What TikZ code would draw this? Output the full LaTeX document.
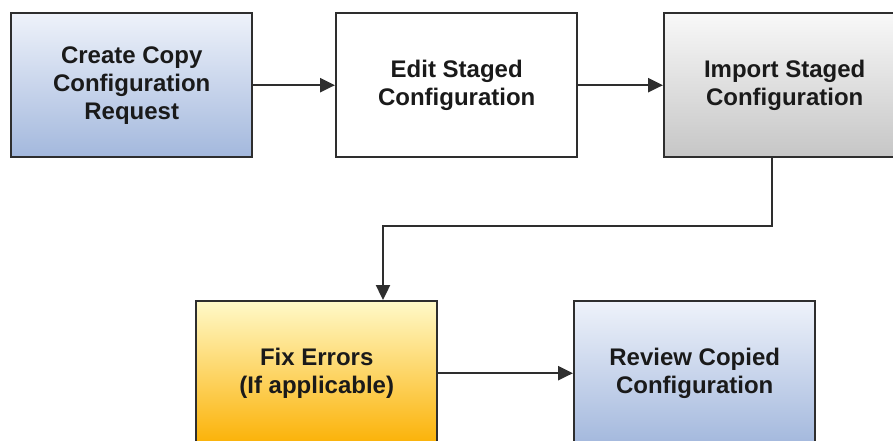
\documentclass[tikz,border=0pt]{standalone}
\usepackage{fontspec}
\setmainfont{Liberation Sans}
\usetikzlibrary{arrows.meta,calc}
\definecolor{edge}{HTML}{2E2E2E}
\definecolor{txt}{HTML}{1A1A1A}
\definecolor{bluetop}{HTML}{EEF2FA}
\definecolor{bluebot}{HTML}{A3B8DD}
\definecolor{graytop}{HTML}{F8F8F8}
\definecolor{graybot}{HTML}{C6C6C6}
\definecolor{yeltop}{HTML}{FFF9C8}
\definecolor{yelbot}{HTML}{FBB105}
\tikzset{
  x=1pt, y=-1pt,
  stepbox/.style={draw=edge, line width=2.4pt, rectangle, anchor=north west,
    minimum width=241pt, minimum height=144pt, inner sep=0pt,
    align=center, text=txt,
    font=\fontsize{24}{28}\selectfont\bfseries},
  bluebox/.style={stepbox, top color=bluetop, bottom color=bluebot},
  graybox/.style={stepbox, top color=graytop, bottom color=graybot},
  yelbox/.style={stepbox, top color=yeltop, bottom color=yelbot},
  whitebox/.style={stepbox, fill=white},
  arr/.style={draw=edge, line width=2.4pt, -{Triangle[length=15pt,width=14pt]}}
}
\begin{document}
\begin{tikzpicture}
\useasboundingbox (0,0) rectangle (893,441);
\clip (0,0) rectangle (893,441);
\node[bluebox] (b1) at (10,12) {Create Copy\\Configuration\\Request};
\node[whitebox] (b2) at (335,12) {Edit Staged\\Configuration};
\node[graybox] (b3) at (663,12) {Import Staged\\Configuration};
\node[yelbox] (b4) at (195,300) {Fix Errors\\(If applicable)};
\node[bluebox] (b5) at (573,300) {Review Copied\\Configuration};
\coordinate (t1) at (772,226);
\coordinate (t2) at (383,226);
\draw[arr] (b1) -- (b2);
\draw[arr] (b2) -- (b3);
\draw[arr] (t1 |- b3.south) -- (t1) -- (t2) -- (t2 |- b4.north);
\draw[arr] (b4) -- (b5);
\end{tikzpicture}
\end{document}
